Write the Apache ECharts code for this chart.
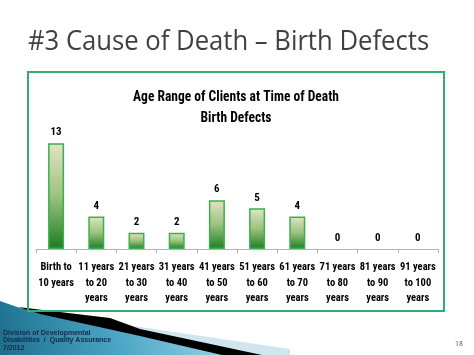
<!DOCTYPE html>
<html>
<head>
<meta charset="utf-8">
<script src="https://cdn.jsdelivr.net/npm/echarts@6/dist/echarts.min.js"></script>
<style>
html,body{margin:0;padding:0;background:#fff;}
#c{width:474px;height:355px;}
</style>
</head>
<body>
<div id="c"></div>
<script>
var slideTitle = '#3 Cause of Death \u2013 Birth Defects';
var chartTitle = 'Age Range of Clients at Time of Death\nBirth Defects';
var categories = ['Birth to\n10 years', '11 years\nto 20\nyears', '21 years\nto 30\nyears', '31 years\nto 40\nyears', '41 years\nto 50\nyears', '51 years\nto 60\nyears', '61 years\nto 70\nyears', '71 years\nto 80\nyears', '81 years\nto 90\nyears', '91 years\nto 100\nyears'];
var values = [13, 4, 2, 2, 6, 5, 4, 0, 0, 0];
var footerLines = ['Division of Developmental', 'Disabilities  /  Quality Assurance', '7/2012'];
var pageNumber = '18';

var narrow = '"Liberation Sans Narrow", "Roboto Condensed", "DejaVu Sans Condensed", sans-serif';

var chart = echarts.init(document.getElementById('c'), null, {renderer: 'canvas'});

var barData = values.map(function (v) {
  return v === 0 ? {value: v, itemStyle: {borderWidth: 0}} : {value: v};
});

chart.setOption({
  animation: false,
  backgroundColor: '#ffffff',
  grid: {left: 36, right: 36, top: 135, bottom: 106},
  xAxis: {
    type: 'category',
    data: categories,
    axisLine: {lineStyle: {color: '#b4b4b4', width: 1}},
    axisTick: {show: true, length: 4, lineStyle: {color: '#b4b4b4'}},
    axisLabel: {interval: 0, margin: 11, fontFamily: narrow, fontSize: 10.5, fontWeight: 'bold', color: '#000', lineHeight: 15.5}
  },
  yAxis: {
    type: 'value', min: 0, max: 14, show: false, splitLine: {show: false}
  },
  series: [{
    type: 'bar',
    data: barData,
    barWidth: 16,
    itemStyle: {
      borderColor: '#3cae50',
      borderWidth: 1.5,
      color: new echarts.graphic.LinearGradient(0, 0, 0, 1, [
        {offset: 0, color: '#e4e3c6'},
        {offset: 0.5, color: '#9cc27e'},
        {offset: 1, color: '#1c7d22'}
      ])
    },
    label: {show: true, position: 'top', distance: 5, fontFamily: narrow, fontSize: 11, fontWeight: 'bold', color: '#000'}
  }],
  graphic: [
    {type: 'rect', shape: {x: 28, y: 72, width: 416, height: 239}, style: {fill: 'none', stroke: '#2fae6f', lineWidth: 2}, z: 10},
    {type: 'text', x: 28, y: 29, scaleX: 0.95, style: {text: slideTitle, font: '27px "Open Sans", sans-serif', fill: '#404040'}, z: 10},
    {type: 'text', x: 236, y: 87, scaleX: 0.9, style: {text: chartTitle, textAlign: 'center', font: 'bold 15px ' + narrow, fill: '#000', lineHeight: 21}, z: 10},
    {type: 'polygon', shape: {points: [[0,301],[20,308],[110,321],[140,331],[228,355],[0,355]]},
     style: {fill: new echarts.graphic.LinearGradient(0, 1, 1, 0, [
       {offset: 0, color: '#1c6f8d'}, {offset: 0.5, color: '#4aa6c4'}, {offset: 1, color: '#9fd6e8'}])}, z: 1},
    {type: 'polygon', shape: {points: [[120,324],[290,349],[290,355],[250,355],[130,330]]},
     style: {fill: '#cfe6ef'}, z: 1},
    {type: 'polygon', shape: {points: [[18,307],[110,318],[140,329],[262,355],[222,355],[140,336],[40,314]]},
     style: {fill: '#000'}, z: 2},
    {type: 'text', left: 3, top: 329, style: {text: footerLines.join('\n'), font: 'bold 7px "Liberation Sans", sans-serif', fill: '#15294a', lineHeight: 7.5}, z: 3},
    {type: 'text', left: 455, top: 340, style: {text: pageNumber, font: '8px ' + narrow, fill: '#666'}, z: 3}
  ]
});
</script>
</body>
</html>
